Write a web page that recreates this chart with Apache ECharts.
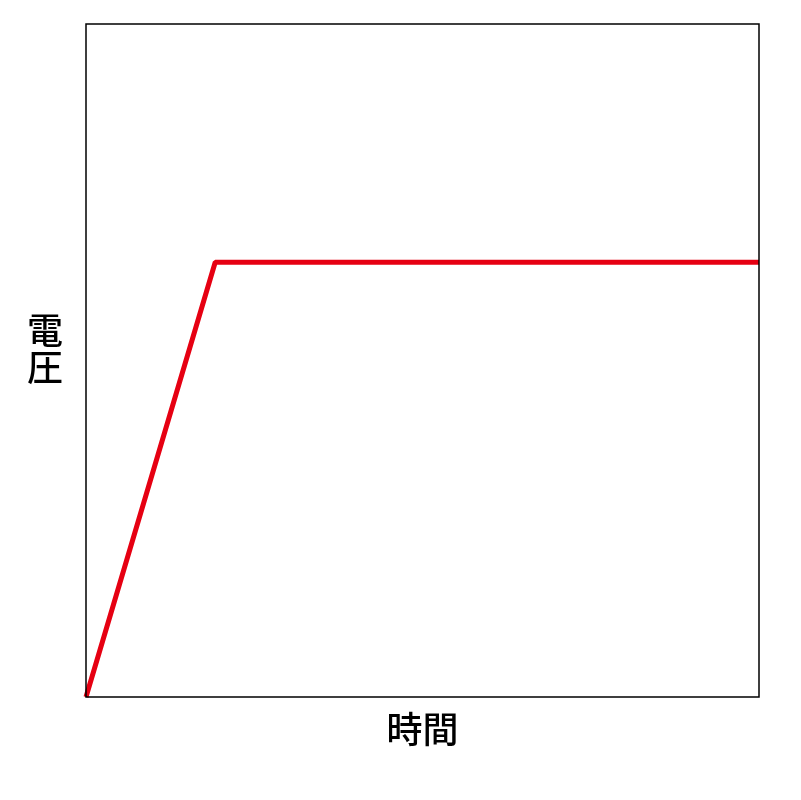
<!DOCTYPE html>
<html>
<head>
<meta charset="utf-8">
<script src="https://cdn.jsdelivr.net/npm/echarts@6/dist/echarts.min.js"></script>
<style>
  html, body { margin: 0; padding: 0; background: #fff; }
  #chart { width: 801px; height: 800px; }
</style>
</head>
<body>
<div id="chart"></div>
<script>
// voltage vs time: ramp then flat (arbitrary units 0-100)
var timeValues = [0, 19.2, 100];
var voltageValues = [0, 64.6, 64.6];

var points = timeValues.map(function(t, i) { return [t, voltageValues[i]]; });

echarts.init(document.getElementById('chart')).setOption({
    animation: false,
    grid: {
        left: 86,
        top: 24,
        width: 673,
        height: 673,
        show: true,
        borderColor: '#000',
        borderWidth: 1.5,
        z: 10
    },
    // vertical y label, placed a little above the middle like the original
    graphic: [{
        type: 'text',
        left: 27,
        top: 312,
        style: {
            text: '電\n圧',
            font: '500 36px "Noto Sans CJK JP"',
            lineHeight: 37,
            fill: '#000'
        }
    }],
    xAxis: {
        type: 'value',
        min: 0,
        max: 100,
        name: '時間',
        nameLocation: 'middle',
        nameGap: 14,
        nameTextStyle: {
            fontFamily: 'Noto Sans CJK JP',
            fontSize: 36,
            fontWeight: 500,
            color: '#000'
        },
        axisLine: { show: false },
        axisTick: { show: false },
        axisLabel: { show: false },
        splitLine: { show: false }
    },
    yAxis: {
        type: 'value',
        min: 0,
        max: 100,
        axisLine: { show: false },
        axisTick: { show: false },
        axisLabel: { show: false },
        splitLine: { show: false }
    },
    series: [{
        type: 'line',
        data: points,
        symbol: 'none',
        lineStyle: { color: '#e60012', width: 5 },
        clip: false
    }]
});
</script>
</body>
</html>
